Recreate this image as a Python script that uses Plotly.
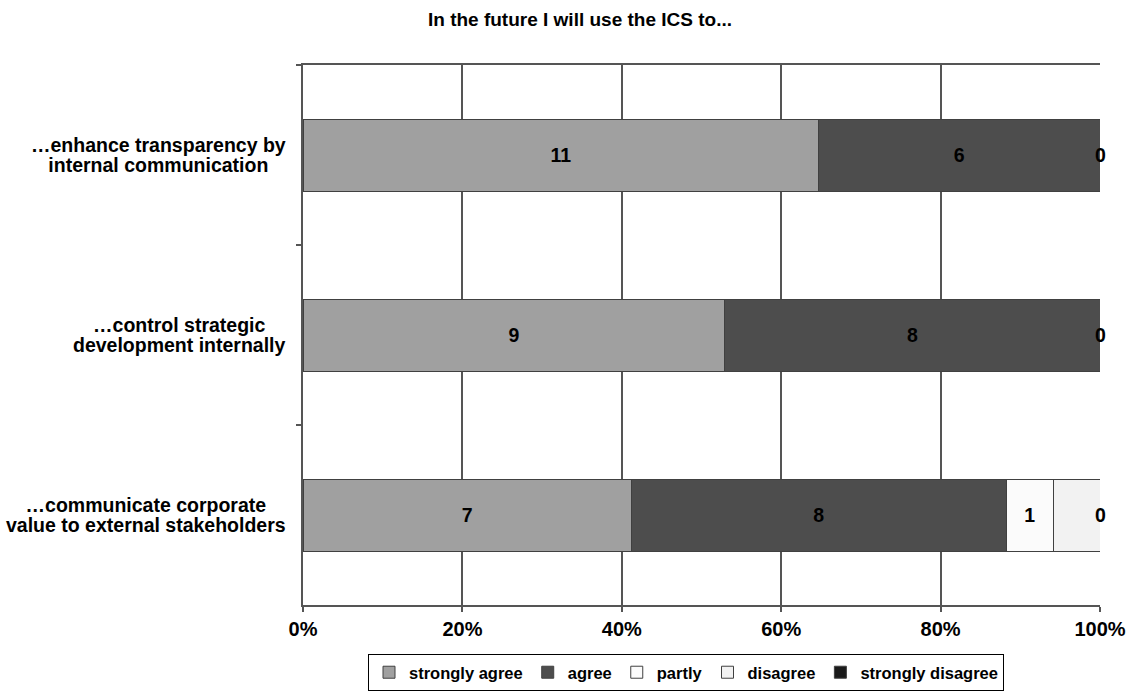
import plotly.graph_objects as go

categories = ["…enhance transparency by<br>internal communication",
              "…control strategic<br>development internally",
              "…communicate corporate<br>value to external stakeholders"]
series_names = ["strongly agree", "agree", "partly", "disagree", "strongly disagree"]
strongly_agree = [11, 9, 7]
agree = [6, 8, 8]
partly = [0, 0, 1]
disagree = [0, 0, 1]
strongly_disagree = [0, 0, 0]
# labels shown in the original chart for each series
labels_strongly_agree = ["11", "9", "7"]
labels_agree = ["6", "8", "8"]
labels_partly = ["0", "0", "1"]
labels_disagree = ["", "", ""]
labels_strongly_disagree = ["", "", "0"]
colors = ["#a0a0a0", "#4d4d4d", "#fbfbfb", "#f2f2f2", "#1a1a1a"]
x_ticks = [0, 20, 40, 60, 80, 100]
x_tick_text = ["0%", "20%", "40%", "60%", "80%", "100%"]
title_text = "In the future I will use the ICS to..."

values = [strongly_agree, agree, partly, disagree, strongly_disagree]
labels = [labels_strongly_agree, labels_agree, labels_partly, labels_disagree, labels_strongly_disagree]

FONT = "Liberation Sans, Arial, sans-serif"
LBL = 19.5
fig = go.Figure()
totals = [sum(v[i] for v in values) for i in range(len(categories))]
cum = [0] * len(categories)
annotations = []
for name, vals, labs, col in zip(series_names, values, labels, colors):
    pct = [v / t * 100 for v, t in zip(vals, totals)]
    txt = [l if v > 0 else "" for l, v in zip(labs, vals)]
    fig.add_trace(go.Bar(
        y=categories, x=pct, name=name, orientation="h",
        marker=dict(color=col, line=dict(color="#404040", width=1)),
        text=txt, textposition="inside", insidetextanchor="middle",
        textangle=0, constraintext="none",
        textfont=dict(family=FONT, size=LBL, color="black", weight="bold"),
        hoverinfo="skip",
    ))
    for i, (l, v) in enumerate(zip(labs, vals)):
        cum_end = cum[i] + pct[i]
        if v == 0 and l:
            annotations.append(dict(x=cum_end, y=categories[i], xref="x", yref="y",
                                    text=l, showarrow=False, xanchor="center",
                                    font=dict(family=FONT, size=LBL, color="black", weight="bold")))
        cum[i] = cum_end

for c in categories:
    styled = "<br>".join("<span style='font-size:%spx'>%s</span>" % (LBL, part)
                         for part in c.split("<br>"))
    annotations.append(dict(x=-0.019, y=c, xref="paper", yref="y", text=styled,
                            showarrow=False, xanchor="right", align="center",
                            font=dict(family=FONT, size=15.4, color="black", weight="bold")))

fig.update_layout(
    width=1132, height=695,
    margin=dict(l=303, r=32, t=65, b=90, autoexpand=False),
    barmode="stack", bargap=0.6,
    plot_bgcolor="white", paper_bgcolor="white",
    title=dict(text=title_text, x=580 / 1132, xref="container", xanchor="center",
               y=1 - 19 / 695, yref="container", yanchor="middle",
               font=dict(family=FONT, size=19, color="black", weight="bold")),
    xaxis=dict(range=[0, 100], tickvals=x_ticks, ticktext=x_tick_text, tickmode="array",
               showgrid=True, gridcolor="#555555", gridwidth=1.5,
               showline=True, linecolor="#555555", linewidth=1.5, mirror=True,
               ticks="outside", ticklen=5, tickcolor="#555555", tickwidth=1.5,
               tickfont=dict(family=FONT, size=20, color="black", weight="bold"),
               zeroline=False, fixedrange=True, automargin=False),
    yaxis=dict(autorange="reversed", showticklabels=False, tickson="boundaries",
               ticks="outside", ticklen=5, tickcolor="#555555", tickwidth=1.5,
               showline=True, linecolor="#555555", linewidth=1.5,
               showgrid=False, automargin=False),
    legend=dict(orientation="h", x=686 / 1132, xref="container", xanchor="center",
                y=1 - 654 / 695, yref="container", yanchor="top",
                bordercolor="black", borderwidth=1, traceorder="normal",
                itemwidth=30, tracegroupgap=0,
                font=dict(family=FONT, size=16.5, color="black", weight="bold")),
    annotations=annotations,
    showlegend=True,
)
fig.write_html("out.html")
